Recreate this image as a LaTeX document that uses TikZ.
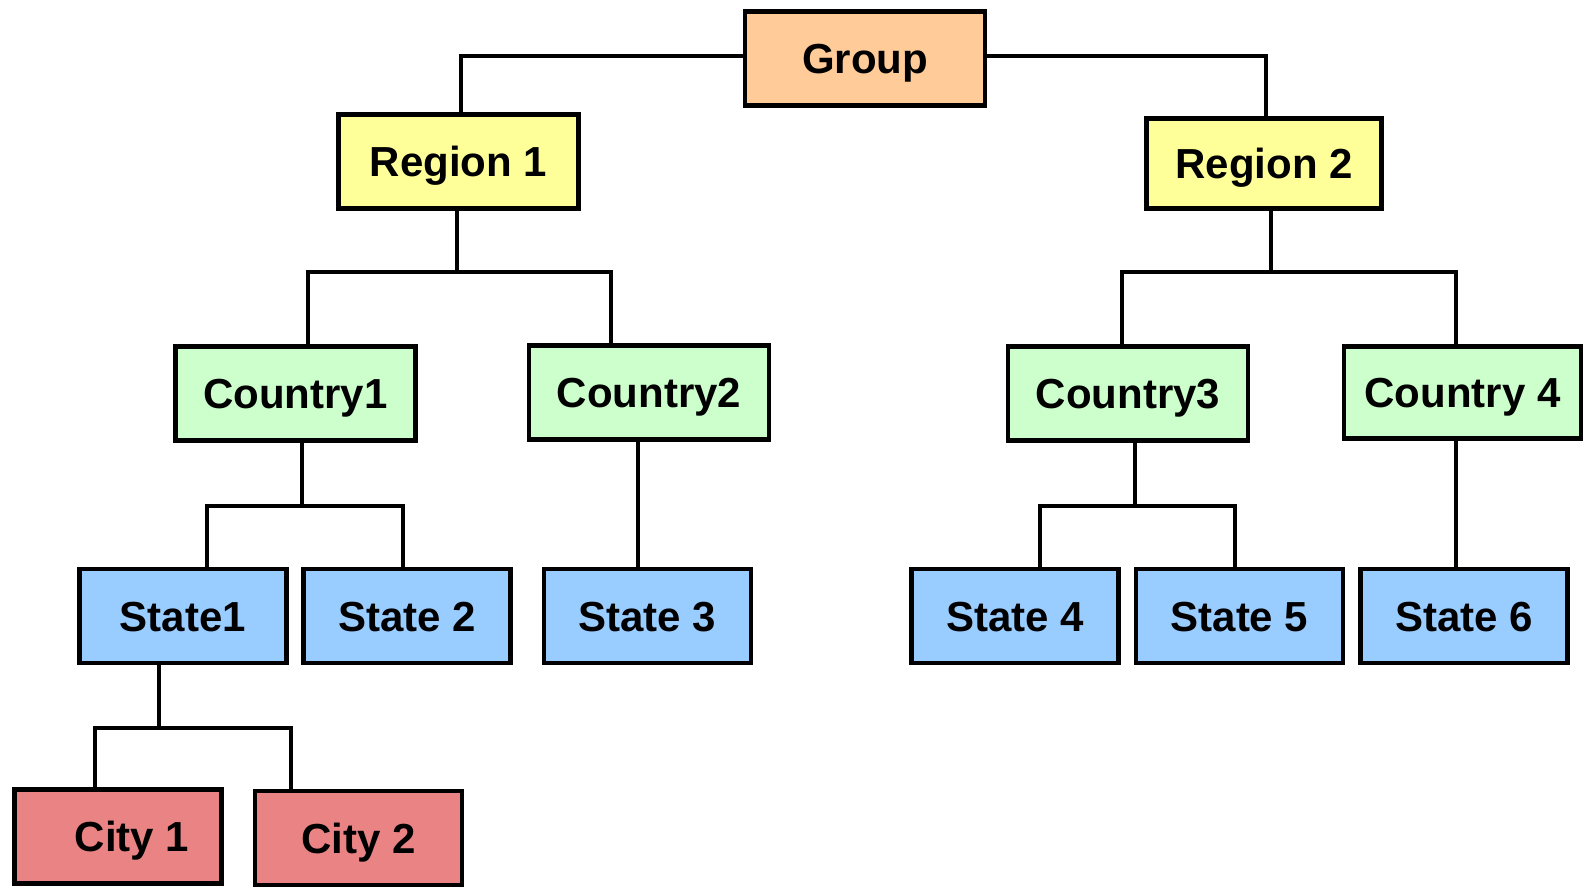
\documentclass[tikz,border=0pt]{standalone}
\usepackage{fontspec}
\setmainfont{Liberation Sans}
\begin{document}
\begin{tikzpicture}[x=1pt,y=-1pt,
  box/.style={draw=black, line width=4.2pt, rectangle, inner sep=0pt,
    minimum width=240pt, minimum height=94pt,
    text height=30pt, text depth=0pt,
    font=\fontsize{42}{50}\selectfont\bfseries, text=black},
  wide/.style={box, minimum width=240pt},
  narrow/.style={box, minimum width=207pt},
  grp/.style={wide, fill=grpfill},
  reg/.style={wide, fill=regfill},
  ctry/.style={wide, fill=ctryfill},
  st/.style={narrow, fill=stfill},
  cty/.style={narrow, fill=ctyfill},
  link/.style={draw=black, line width=3.6pt}]
\definecolor{grpfill}{HTML}{FFCC99}
\definecolor{regfill}{HTML}{FFFF99}
\definecolor{ctryfill}{HTML}{CCFFCC}
\definecolor{stfill}{HTML}{99CCFF}
\definecolor{ctyfill}{HTML}{EA8484}

\useasboundingbox (0,0) rectangle (1584,886);
\fill[white] (0,0) rectangle (1584,886);
\clip (0,0) rectangle (1584,886);

% hierarchy boxes
\node[grp]  (G)  at (865,58.5)   {Group};
\node[reg]  (R1) at (458.5,161.5) {Region 1};
\node[reg, minimum width=235pt, minimum height=90pt] (R2) at (1264,163.5) {Region 2};
\node[ctry] (C1) at (295.5,393.5) {Country1};
\node[ctry] (C2) at (649,392.5)   {Country2};
\node[ctry] (C3) at (1128,393.5)  {Country3};
\node[ctry, minimum width=237pt, minimum height=92pt] (C4) at (1462.5,392.5) {Country 4};
\node[st] (S1) at (183,616)    {State1};
\node[st] (S2) at (407,616)    {State 2};
\node[st] (S3) at (647.5,616)  {State 3};
\node[st] (S4) at (1015,616)   {State 4};
\node[st] (S5) at (1239.5,616) {State 5};
\node[st] (S6) at (1464,616)   {State 6};
\node[cty] (T1) at (118,836.5)   {\hspace*{28pt}City 1};
\node[cty] (T2) at (358.5,838)   {City 2};

% bend points of the connectors
\coordinate (kG1) at (461,56);
\coordinate (kG2) at (1266,56);
\coordinate (kR1) at (457,272);
\coordinate (kC1) at (308,272);
\coordinate (kC2) at (611,272);
\coordinate (kR2) at (1271,272);
\coordinate (kC3) at (1122,272);
\coordinate (kC4) at (1456,272);
\coordinate (kK1) at (302,506);
\coordinate (kS1) at (207,506);
\coordinate (kS2) at (403,506);
\coordinate (kK2) at (638,506);
\coordinate (kK3) at (1135,506);
\coordinate (kS4) at (1040,506);
\coordinate (kS5) at (1235,506);
\coordinate (kK4) at (1456,506);
\coordinate (kT0) at (159,728);
\coordinate (kT1) at (95,728);
\coordinate (kT2) at (291,728);

% connectors
\draw[link] (G.west |- kG1) -| (R1.north -| kG1);
\draw[link] (G.east |- kG2) -| (R2.north -| kG2);

\draw[link] (R1.south -| kR1) -- (kR1);
\draw[link] (C1.north -| kC1) |- (kC2) -- (C2.north -| kC2);
\draw[link] (R2.south -| kR2) -- (kR2);
\draw[link] (C3.north -| kC3) |- (kC4) -- (C4.north -| kC4);

\draw[link] (C1.south -| kK1) -- (kK1);
\draw[link] (S1.north -| kS1) |- (kS2) -- (S2.north -| kS2);
\draw[link] (C2.south -| kK2) -- (S3.north -| kK2);
\draw[link] (C3.south -| kK3) -- (kK3);
\draw[link] (S4.north -| kS4) |- (kS5) -- (S5.north -| kS5);
\draw[link] (C4.south -| kK4) -- (S6.north -| kK4);

\draw[link] (S1.south -| kT0) -- (kT0);
\draw[link] (T1.north -| kT1) |- (kT2) -- (T2.north -| kT2);
\end{tikzpicture}
\end{document}
